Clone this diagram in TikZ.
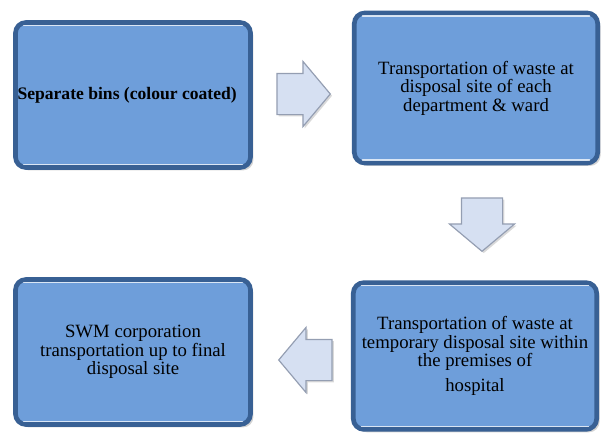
\documentclass[tikz,border=0pt]{standalone}
\usepackage{fontspec}
\setmainfont{Liberation Serif}
\usetikzlibrary{shapes.arrows}
\usetikzlibrary{shadows}
\definecolor{boxfill}{RGB}{110,158,218}
\definecolor{boxedge}{RGB}{56,96,148}
\definecolor{arrowfill}{RGB}{214,224,242}
\definecolor{arrowedge}{RGB}{148,158,178}
\tikzset{wastebox/.style = {draw=boxedge, fill=boxfill, line width=4pt, rounded corners=9pt,
                            inner sep=0pt, align=center, font=\fontsize{16}{15.8}\selectfont,
                            drop shadow={shadow xshift=2.5pt, shadow yshift=-2.5pt, opacity=0.35}}}
\tikzset{sheen/.style = {white, opacity=0.75, line width=1.3pt, line cap=round}}
\tikzset{flowarrow/.style = {single arrow, draw=arrowedge, fill=arrowfill, line width=1pt,
                             inner xsep=0pt, inner ysep=0.6cm, minimum height=1.6cm,
                             single arrow head extend=0.36cm, single arrow tip angle=100,
                             drop shadow={shadow xshift=1.5pt, shadow yshift=-1.5pt, opacity=0.3}}}

\begin{document}
\begin{tikzpicture}[x=0.03cm, y=-0.03cm]
    \useasboundingbox (0, 0) rectangle (606, 445);

    \node [wastebox, minimum width=7.05cm, minimum height=4.35cm] (b1) at (133, 95)
        {\fontsize{15}{16}\selectfont\textbf{Separate bins (colour coated)}\hspace*{10pt}};
    \node [wastebox, minimum width=7.3cm, minimum height=4.5cm] (b2) at (476, 88)
        {Transportation of waste at\\ disposal site of each\\ department \& ward};
    \node [wastebox, minimum width=7.3cm, minimum height=4.4cm] (b3) at (475, 356)
        {Transportation of waste at\\ temporary disposal site within\\ the premises of\\[5pt] hospital};
    \node [wastebox, minimum width=7.05cm, minimum height=4.35cm] (b4) at (133, 352)
        {SWM corporation\\ transportation up to final\\ disposal site};

    \foreach \b in {b1, b2, b3, b4} {
        \draw [sheen] ([xshift=9pt, yshift=-4.5pt]\b.north west) -- ([xshift=-9pt, yshift=-4.5pt]\b.north east);
        \draw [sheen] ([xshift=9pt, yshift=4.5pt]\b.south west) -- ([xshift=-9pt, yshift=4.5pt]\b.south east);
    }

    \node [flowarrow] (a12) at (295, 94) {};
    \node [flowarrow, rotate=270] (a23) at (482, 216) {};
    \node [flowarrow, rotate=180] (a34) at (314, 360) {};
\end{tikzpicture}
\end{document}
